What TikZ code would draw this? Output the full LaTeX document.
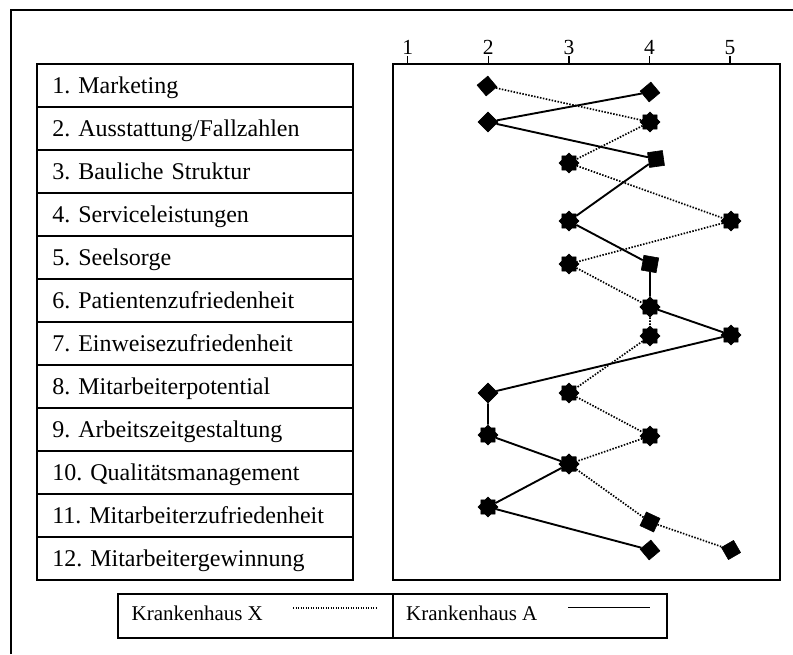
\documentclass[tikz,border=0pt]{standalone}
\usepackage{fontspec}
\setmainfont{Liberation Serif}
\usetikzlibrary{shapes.geometric}
\frenchspacing
\begin{document}
\begin{tikzpicture}[x=1pt,y=-1pt,
  frame/.style={line width=1.6pt},
  rowbox/.style={draw, line width=1.6pt, rectangle, anchor=north west,
    minimum width=316pt, minimum height=43pt, inner xsep=15.5pt, inner ysep=0pt,
    text width=285pt, align=left, text height=15.6pt, text depth=0pt,
    font=\fontsize{24pt}{26pt}\selectfont},
  legbox/.style={draw, line width=1.6pt, rectangle, anchor=north west,
    minimum height=44pt, inner sep=0pt},
  legtext/.style={anchor=base west, inner sep=0pt, font=\fontsize{21pt}{24pt}\selectfont},
  ticklab/.style={anchor=base, inner sep=0pt, font=\fontsize{21.5pt}{24pt}\selectfont},
  mkdia/.style={draw, fill, rectangle, minimum size=14pt, inner sep=0pt, line width=0.6pt},
  mksq/.style={draw, fill, rectangle, minimum size=15pt, inner sep=0pt, line width=0.6pt},
  mkstar/.style={draw, fill, star, star points=8, star point ratio=1.3, minimum size=20pt, inner sep=0pt, line width=0.6pt},
  aline/.style={line width=1.9pt},
  xline/.style={line width=1.7pt, dash pattern=on 1.5pt off 1.5pt},
]
\useasboundingbox (0,0) rectangle (793,654);
% outer frame
\draw[frame] (11,654) -- (11,10) -- (793,10);
% row labels
\foreach \i/\t in {1/{1. Marketing},2/{2. Ausstattung/Fallzahlen},3/{3. Bauliche Struktur},
  4/{4. Serviceleistungen},5/{5. Seelsorge},6/{6. Patientenzufriedenheit},
  7/{7. Einweisezufriedenheit},8/{8. Mitarbeiterpotential},9/{9. Arbeitszeitgestaltung},
  10/{10. Qualitätsmanagement},11/{11. Mitarbeiterzufriedenheit},12/{12. Mitarbeitergewinnung}}
  \node[rowbox] (l\i) at (36,{63+43*(\i-1)}) {\t};
% chart box
\node[draw, line width=1.6pt, rectangle, anchor=north west, minimum width=387pt,
  minimum height=516pt, inner sep=0pt] (chart) at (392,63) {};
\foreach \v in {1,...,5} {
  \coordinate (t\v) at ({407.7+80.6*(\v-1)},63);
  \coordinate (tt\v) at ({407.7+80.6*(\v-1)},55.5);
  \draw[line width=1.3pt] (t\v) -- (tt\v);
  \node[ticklab] (tl\v) at ({407.7+80.6*(\v-1)},54.5) {\v};
}
% markers Krankenhaus X
\node[mkdia, rotate=40] (x1) at (487,86) {};
\node[mkstar] (x2) at (650,122) {};
\node[mkstar] (x3) at (569,163) {};
\node[mkstar] (x4) at (731,221) {};
\node[mkstar] (x5) at (569,264) {};
\node[mkstar] (x6) at (650,307) {};
\node[mkstar] (x7) at (650,336) {};
\node[mkstar] (x8) at (569,393) {};
\node[mkstar] (x9) at (650,436) {};
\node[mkstar] (x10) at (569,464) {};
\node[mksq, rotate=-25] (x11) at (650,522) {};
\node[mkdia, rotate=30] (x12) at (731,550) {};
% markers Krankenhaus A
\node[mkdia, rotate=40] (a1) at (650,92) {};
\node[mkdia, rotate=45] (a2) at (488,122) {};
\node[mksq, rotate=8] (a3) at (656,159) {};
\node[mkstar] (a4) at (569,221) {};
\node[mksq, rotate=-10] (a5) at (650,264) {};
\node[mkdia, rotate=45] (a6) at (650,307) {};
\node[mkstar] (a7) at (731,335) {};
\node[mkdia, rotate=45] (a8) at (488,393) {};
\node[mkstar] (a9) at (488,435) {};
\node[mkstar] (a10) at (569,464) {};
\node[mkstar] (a11) at (488,507) {};
\node[mkdia, rotate=40] (a12) at (650,550) {};
% connectors
\draw[xline] (x1) -- (x2) -- (x3) -- (x4) -- (x5) -- (x6) -- (x7) -- (x8) -- (x9) -- (x10) -- (x11) -- (x12);
\draw[aline] (a1) -- (a2) -- (a3) -- (a4) -- (a5) -- (a6) -- (a7) -- (a8) -- (a9) -- (a10) -- (a11) -- (a12);
% legend
\node[legbox, minimum width=275pt] (legx) at (117,593) {};
\node[legbox, minimum width=274pt] (lega) at (392,593) {};
\node[legtext] (legxt) at (131.5,620.5) {Krankenhaus X};
\node[legtext] (legat) at (406,620.5) {Krankenhaus A};
\coordinate (lx1) at (293,608);
\coordinate (lx2) at (376,608);
\coordinate (la1) at (568,607.5);
\coordinate (la2) at (650,607.5);
\draw[xline, line width=1.3pt, dash pattern=on 1.2pt off 1.3pt] (lx1) -- (lx2);
\draw[aline] (la1) -- (la2);
\end{tikzpicture}
\end{document}
